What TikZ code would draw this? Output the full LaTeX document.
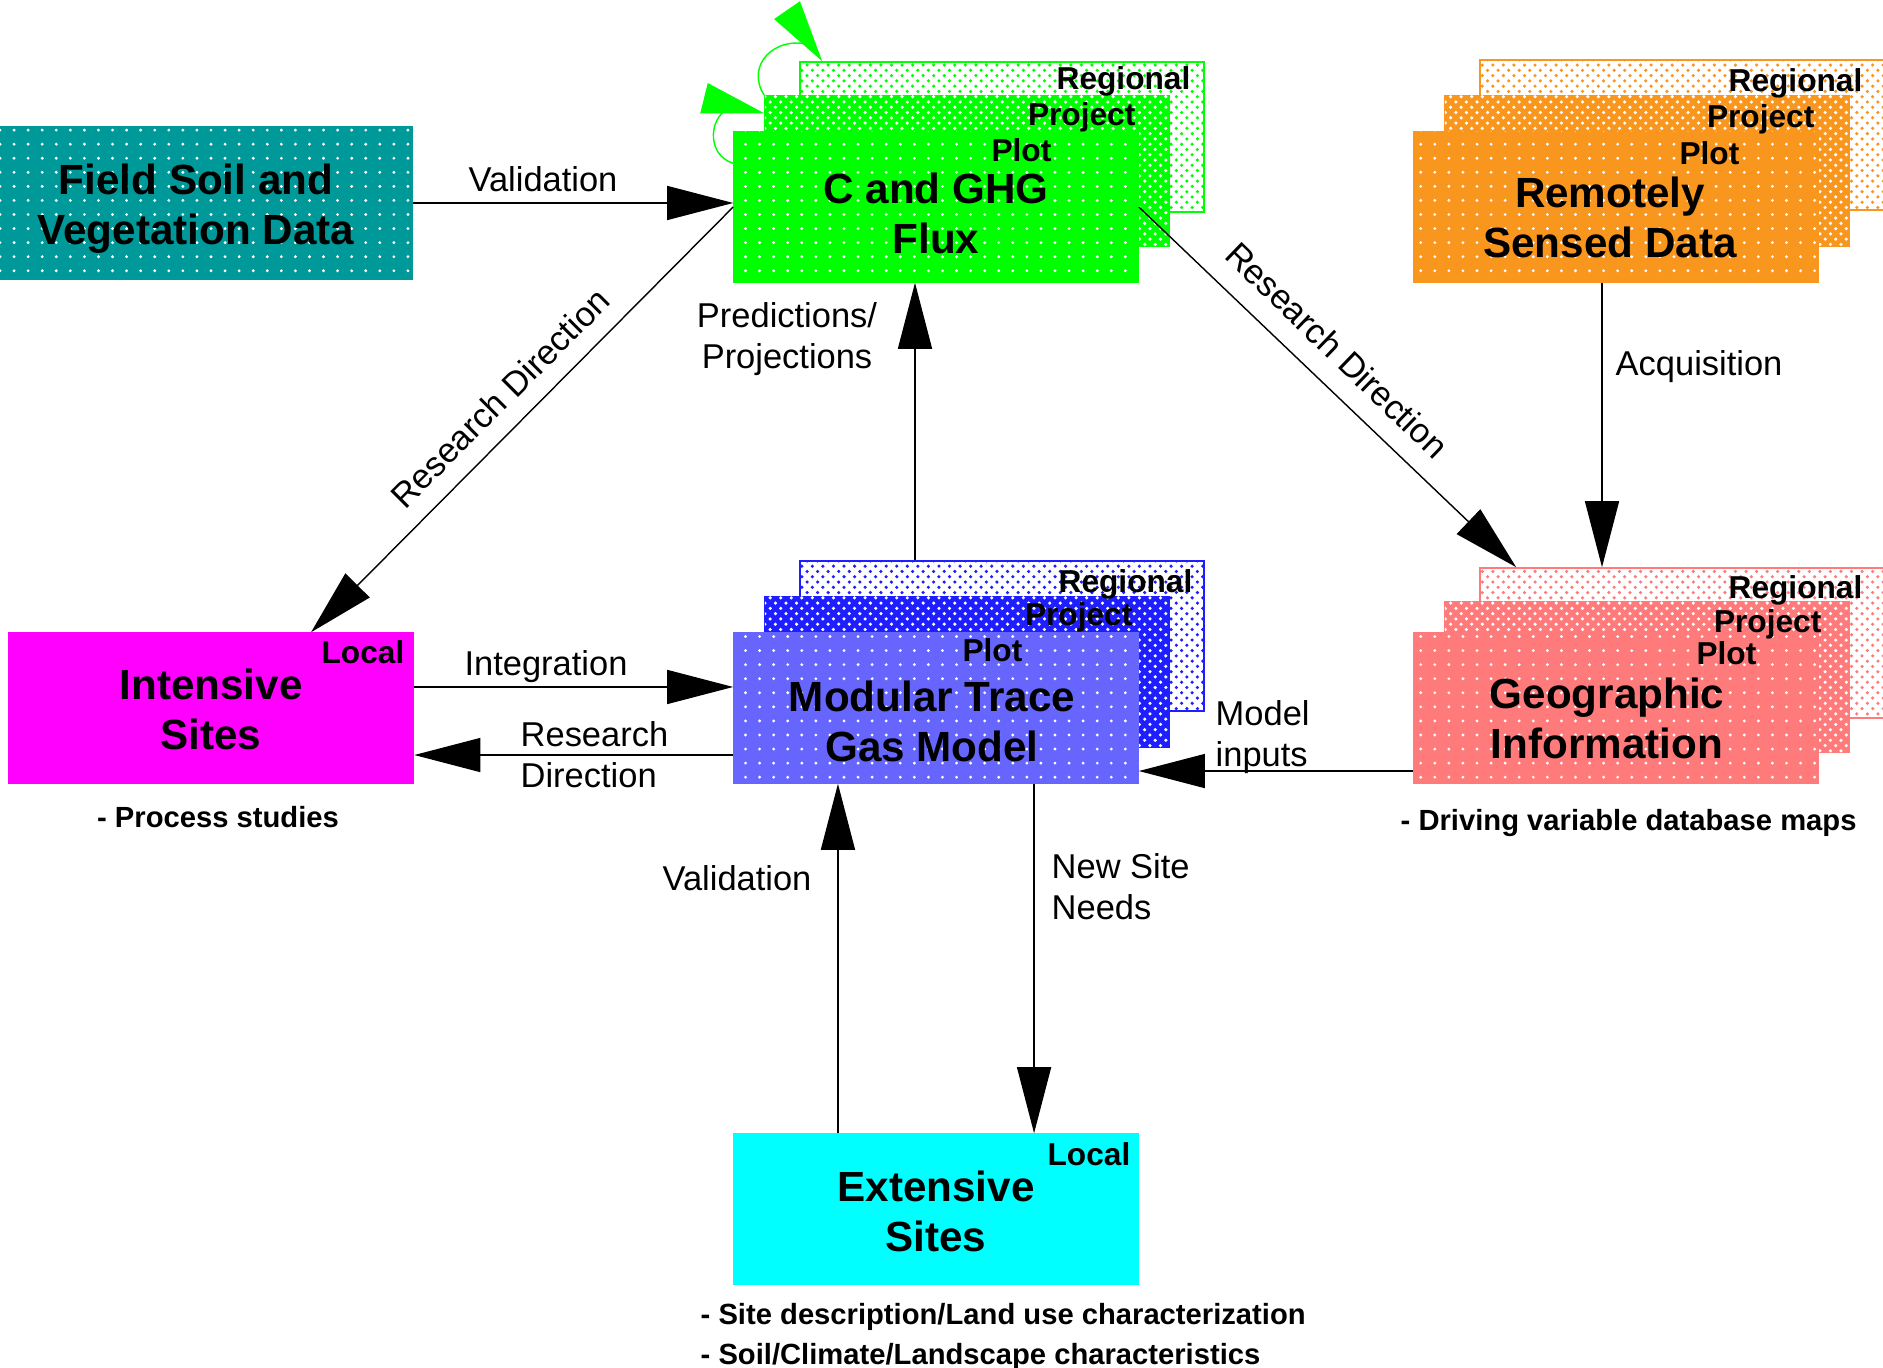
\documentclass[tikz,border=0pt]{standalone}
\usepackage{fontspec}
\setmainfont{Liberation Sans}
\definecolor{fieldteal}{RGB}{0,153,153}
\definecolor{fluxgreen}{RGB}{0,255,0}
\definecolor{remorange}{RGB}{248,150,30}
\definecolor{modblue}{RGB}{102,102,255}
\definecolor{projblue}{RGB}{30,30,255}
\definecolor{geopink}{RGB}{255,122,122}
\definecolor{sitemagenta}{RGB}{255,0,255}
\definecolor{sitecyan}{RGB}{0,255,255}
\usetikzlibrary{arrows.meta,positioning,patterns}
\pgfdeclarepatternformonly{sparse dots}{\pgfqpoint{-1pt}{-1pt}}{\pgfqpoint{1pt}{1pt}}{\pgfqpoint{4pt}{4pt}}{\pgfpathcircle{\pgfqpoint{0pt}{0pt}}{.45pt}\pgfusepath{fill}}

\begin{document}
\begin{tikzpicture}[x=0.01cm, y=-0.01cm,
    plotbox/.style={rectangle, draw=#1, fill=#1, minimum width=4.04cm, minimum height=1.5cm, inner sep=0pt, postaction={pattern=sparse dots, pattern color=white}},
    projbox/.style={rectangle, draw=#1, fill=#1, minimum width=4.04cm, minimum height=1.5cm, inner sep=0pt, postaction={pattern=crosshatch dots, pattern color=white}},
    regbox/.style={rectangle, draw=#1, fill=white, minimum width=4.04cm, minimum height=1.5cm, inner sep=0pt, postaction={pattern=crosshatch dots, pattern color=#1}},
    sitebox/.style={rectangle, draw=#1, fill=#1, minimum width=4.04cm, minimum height=1.5cm, inner sep=0pt},
    title/.style={font=\fontsize{12}{14.2}\selectfont\bfseries, inner sep=0pt, align=center},
    tier/.style={font=\fontsize{9}{10}\selectfont\bfseries, inner sep=0pt, anchor=east},
    lbl/.style={font=\fontsize{9.8}{11.7}\selectfont, inner sep=0pt, align=center},
    note/.style={font=\fontsize{8.3}{11.2}\selectfont\bfseries, inner sep=0pt, align=left},
    arrow/.style={-{Triangle[length=0.66cm, width=0.34cm]}, line width=0.4pt, black},
    selfarrow/.style={-{Triangle[length=0.62cm, width=0.31cm]}, line width=0.4pt, fluxgreen}
]
    \useasboundingbox (0,0) rectangle (1883,1368);

    % stacked boxes: regional, project, plot
    \node[regbox=fluxgreen] (fluxreg) at (1002,137) {};
    \node[projbox=fluxgreen] (fluxproj) at (967,171) {};
    \node[plotbox=fluxgreen] (fluxplot) at (936,207) {};

    \node[regbox=remorange] (remreg) at (1682,135) {};
    \node[projbox=remorange] (remproj) at (1647,171) {};
    \node[plotbox=remorange] (remplot) at (1616,207) {};

    \node[regbox=projblue] (modreg) at (1002,636) {};
    \node[projbox=projblue] (modproj) at (967,672) {};
    \node[plotbox=modblue] (modplot) at (936,708) {};

    \node[regbox=geopink] (georeg) at (1682,643) {};
    \node[projbox=geopink] (geoproj) at (1647,677) {};
    \node[plotbox=geopink] (geoplot) at (1616,708) {};

    \node[plotbox=fieldteal, minimum width=4.13cm, minimum height=1.53cm] (field) at (206,203) {};
    \node[sitebox=sitemagenta, minimum width=4.05cm] (intensive) at (211,708) {};
    \node[sitebox=sitecyan] (extensive) at (936,1209) {};

    % box titles
    \node[title] (fluxtitle) at (936,213) {C and GHG\\Flux};
    \node[title] (remtitle) at (1610,217) {Remotely\\Sensed Data};
    \node[title] (modtitle) at (932,721) {Modular Trace\\Gas Model};
    \node[title] (geotitle) at (1607,718) {Geographic\\Information};
    \node[title] (fieldtitle) at (196,209) {Field Soil and\\Vegetation Data};
    \node[title] (inttitle) at (211,709) {Intensive\\Sites};
    \node[title] (exttitle) at (936,1211) {Extensive\\Sites};

    % scale labels
    \node[tier] (fluxregt) at (1191,81) {Regional};
    \node[tier] (fluxprojt) at (1136,117) {Project};
    \node[tier] (fluxplott) at (1052,150) {Plot};
    \node[tier] (remregt) at (1863,83) {Regional};
    \node[tier] (remprojt) at (1815,119) {Project};
    \node[tier] (remplott) at (1740,153) {Plot};
    \node[tier] (modregt) at (1193,584) {Regional};
    \node[tier] (modprojt) at (1133,617) {Project};
    \node[tier] (modplott) at (1023,650) {Plot};
    \node[tier] (georegt) at (1863,590) {Regional};
    \node[tier] (geoprojt) at (1822,624) {Project};
    \node[tier] (geoplott) at (1757,653) {Plot};
    \node[tier] (intlocal) at (405,652) {Local};
    \node[tier] (extlocal) at (1131,1154) {Local};

    % green self loops
    \draw[selfarrow] (fluxproj.north west) .. controls (745,65) and (775,35) .. (811,45) -- ([xshift=0.23cm]fluxreg.north west);
    \draw[selfarrow] ([yshift=-0.32cm]fluxplot.north west) .. controls (705,155) and (708,112) .. (735,106) -- ([yshift=-0.18cm]fluxproj.north west);

    % connectors
    \draw[arrow] (field.east) -- (field.east -| fluxplot.west);
    \node[lbl] (lvaltop) at (543,179) {Validation};

    \draw[arrow] (fluxplot.west) -- ([xshift=1cm]intensive.north);
    \node[lbl, rotate=45] (lresleft) at (500,398) {Research Direction};

    \draw[arrow] (fluxplot.east) -- ([xshift=0.37cm]georeg.north west);
    \node[lbl, rotate=-44] (lresright) at (1337,350) {Research Direction};

    \coordinate (acq) at ([xshift=-0.14cm]remplot.south);
    \draw[arrow] (acq) -- (acq |- georeg.north);
    \node[lbl, anchor=west] (lacq) at (1615,367) {Acquisition};

    \coordinate (pred) at ([xshift=-0.21cm]fluxplot.south);
    \draw[arrow] (pred |- modreg.north) -- (pred);
    \node[lbl] (lpred) at (787,339) {Predictions/\\Projections};

    \draw[arrow] ([yshift=0.21cm]intensive.east) -- ([yshift=0.21cm]intensive.east -| modplot.west);
    \node[lbl] (linteg) at (546,667) {Integration};

    \draw[arrow] ([yshift=-0.47cm]modplot.west) -- ([yshift=-0.47cm]modplot.west -| intensive.east);
    \node[lbl, anchor=west, align=left] (lresdir) at (520,755) {Research\\Direction};

    \draw[arrow] ([yshift=-0.63cm]geoplot.west) -- ([yshift=-0.63cm]geoplot.west -| modplot.east);
    \node[lbl, anchor=west, align=left] (linputs) at (1215,737) {Model\\inputs};

    \draw[arrow] ([xshift=-0.98cm]extensive.north) -- ([xshift=-0.98cm]extensive.north |- modplot.south);
    \node[lbl] (lvalbot) at (737,878) {Validation};

    \draw[arrow] ([xshift=0.98cm]modplot.south) -- ([xshift=0.98cm]modplot.south |- extensive.north);
    \node[lbl, anchor=west, align=left] (lneeds) at (1051,887) {New Site\\Needs};

    % notes under boxes
    \node[note] (intnote) at (218,817) {- Process studies};
    \node[note, anchor=west] (geonote) at (1400,823) {- Driving variable database maps};
    \node[note, anchor=west] (extnote) at (700,1337) {- Site description/Land use characterization\\- Soil/Climate/Landscape characteristics};
\end{tikzpicture}
\end{document}
